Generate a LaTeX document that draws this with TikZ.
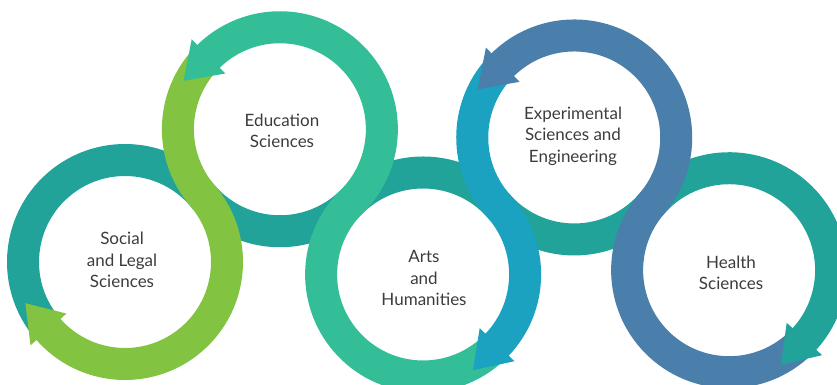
\documentclass[tikz,border=0pt]{standalone}
\usepackage{fontspec}
\setmainfont{Lato}
\usetikzlibrary{calc}
\definecolor{cteal}{RGB}{33,163,154}
\definecolor{cgreen}{RGB}{130,195,65}
\definecolor{cmint}{RGB}{52,190,152}
\definecolor{cblue}{RGB}{27,162,192}
\definecolor{csteel}{RGB}{74,126,171}
\definecolor{ctext}{RGB}{60,60,60}
% arrow head: #1 ring centre, #2 angle of the base, #3 direction of travel, #4 colour
\newcommand\headat[4]{\fill[#4] ($(#1)+(#2:102)+(#2:24)$) -- ($(#1)+(#2:102)+(#3:35)$) -- ($(#1)+(#2:102)+(#2+180:24)$) -- cycle;}
\begin{document}
\begin{tikzpicture}[x=1pt,y=1pt,
  ringband/.style={line width=32pt},
  txt/.style={text=ctext, align=center, font=\fontsize{17}{21.5}\selectfont}]
\useasboundingbox (0,0) rectangle (837,385);
\coordinate (C1) at (125,123);
\coordinate (C2) at ($(C1)+(40.6:204)$);
\coordinate (C3) at ($(C2)+(-45.4:204)$);
\coordinate (C4) at ($(C3)+(42.2:204)$);
\coordinate (C5) at ($(C4)+(-40.6:204)$);
% teal wave behind everything
\draw[ringband,cteal] ($(C1)+(218.5:102)$) arc[start angle=218.5,end angle=40.6,radius=102]
  arc[start angle=220.6,end angle=314.6,radius=102]
  arc[start angle=134.6,end angle=42.2,radius=102]
  arc[start angle=222.2,end angle=319.4,radius=102]
  arc[start angle=139.4,end angle=-42.9,radius=102];
% green arrow
\draw[ringband,cgreen] ($(C2)+(137.5:102)$) arc[start angle=137.5,end angle=220.6,radius=102]
  arc[start angle=40.6,end angle=-139,radius=102];
\headat{C1}{-138.6}{-228.6}{cgreen}
% mint arrow
\draw[ringband,cmint] ($(C3)+(-46.5:102)$) arc[start angle=-46.5,end angle=-225.4,radius=102]
  arc[start angle=-45.4,end angle=134.8,radius=102];
\headat{C2}{134.4}{224.4}{cmint}
% blue arrow
\draw[ringband,cblue] ($(C4)+(137.5:102)$) arc[start angle=137.5,end angle=222.2,radius=102]
  arc[start angle=42.2,end angle=-44,radius=102];
\headat{C3}{-43.5}{-133.5}{cblue}
% steel blue arrow
\draw[ringband,csteel] ($(C5)+(-45.5:102)$) arc[start angle=-45.5,end angle=-220.6,radius=102]
  arc[start angle=-40.6,end angle=134.9,radius=102];
\headat{C4}{134.5}{224.5}{csteel}
% teal arrow head
\headat{C5}{-42.4}{-132.4}{cteal}
% labels
\node[txt] (social) at (122,125) {Social\\and Legal\\Sciences};
\node[txt] (education) at (282,254) {Education\\Sciences};
\node[txt] (arts) at (424,107) {Arts\\and\\Humanities};
\node[txt] (experimental) at (573,249) {Experimental\\Sciences and\\Engineering};
\node[txt] (health) at (731,112) {Health\\Sciences};
\end{tikzpicture}
\end{document}
